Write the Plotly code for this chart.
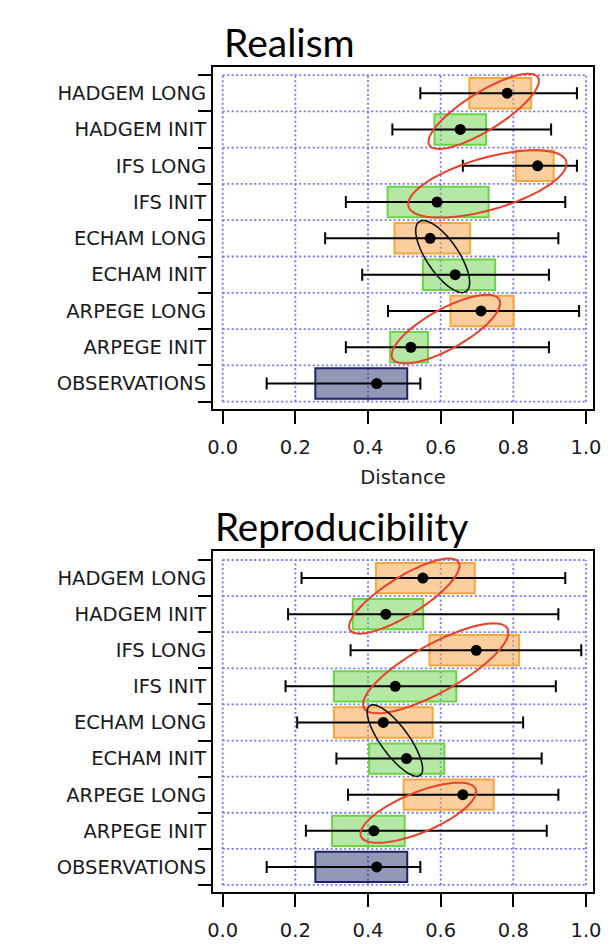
import numpy as np
import plotly.graph_objects as go

# ---------------- data ----------------
categories = ["OBSERVATIONS", "ARPEGE INIT", "ARPEGE LONG", "ECHAM INIT", "ECHAM LONG",
              "IFS INIT", "IFS LONG", "HADGEM INIT", "HADGEM LONG"]

realism_median = [0.424, 0.518, 0.711, 0.640, 0.571, 0.590, 0.867, 0.654, 0.783]
realism_q1 = [0.255, 0.461, 0.627, 0.551, 0.473, 0.454, 0.807, 0.583, 0.679]
realism_q3 = [0.508, 0.565, 0.801, 0.750, 0.681, 0.732, 0.911, 0.725, 0.849]
realism_min = [0.121, 0.339, 0.455, 0.384, 0.282, 0.339, 0.661, 0.467, 0.544]
realism_max = [0.544, 0.898, 0.981, 0.898, 0.924, 0.943, 0.975, 0.904, 0.975]

repro_median = [0.424, 0.416, 0.661, 0.506, 0.442, 0.475, 0.698, 0.449, 0.551]
repro_q1 = [0.255, 0.301, 0.498, 0.403, 0.306, 0.306, 0.569, 0.358, 0.422]
repro_q3 = [0.508, 0.501, 0.746, 0.610, 0.578, 0.643, 0.816, 0.552, 0.694]
repro_min = [0.121, 0.229, 0.345, 0.313, 0.205, 0.173, 0.352, 0.180, 0.217]
repro_max = [0.544, 0.892, 0.924, 0.878, 0.827, 0.917, 0.987, 0.924, 0.943]

x_ticks = [0.0, 0.2, 0.4, 0.6, 0.8, 1.0]
panel_titles = ["Realism", "Reproducibility"]
x_title = "Distance"

# ellipse pairs: (long category, init category, colour, semi-major px, semi-minor px, angle deg)
realism_ellipses = [
    ("HADGEM LONG", "HADGEM INIT", "#e8402a", 64, 19, 32),
    ("IFS LONG", "IFS INIT", "#e8402a", 82, 26, 16),
    ("ECHAM LONG", "ECHAM INIT", "#111111", 42, 16, -56),
    ("ARPEGE LONG", "ARPEGE INIT", "#e8402a", 61, 20, 29),
]
repro_ellipses = [
    ("HADGEM LONG", "HADGEM INIT", "#e8402a", 64, 19, 32),
    ("IFS LONG", "IFS INIT", "#e8402a", 82, 24, 29),
    ("ECHAM LONG", "ECHAM INIT", "#111111", 43, 14, -54),
    ("ARPEGE LONG", "ARPEGE INIT", "#e8402a", 62, 20, 22.5),
]

# ---------------- layout geometry ----------------
W, H = 613, 944
ML, MR, MT, MB = 213, 20, 10, 10
x_range = [-0.0267, 1.0193]
top_dom = [0.5682, 0.9386]
bot_dom = [0.0455, 0.4148]
top_yrange = [-0.701, 8.729]
bot_yrange = [-0.694, 8.757]

plot_w = W - ML - MR
plot_h = H - MT - MB
sx = plot_w / (x_range[1] - x_range[0])

FILL = {"LONG": "rgba(245,160,60,0.5)", "INIT": "rgba(110,210,75,0.5)", "OBS": "rgba(40,48,110,0.5)"}
EDGE = {"LONG": "#f6a83c", "INIT": "#6ad443", "OBS": "#1c2466"}
GRID = "#7474ff"


def kind(c):
    if c.endswith("LONG"):
        return "LONG"
    if c.endswith("INIT"):
        return "INIT"
    return "OBS"


pos = list(range(len(categories)))
fig = go.Figure()

panels = [
    (realism_median, realism_q1, realism_q3, realism_min, realism_max, realism_ellipses, "x", "y", top_dom, top_yrange),
    (repro_median, repro_q1, repro_q3, repro_min, repro_max, repro_ellipses, "x2", "y2", bot_dom, bot_yrange),
]

shapes = []
for med, q1, q3, mn, mx, ells, xa, ya, dom, yr in panels:
    kinds = [kind(c) for c in categories]
    fig.add_trace(go.Bar(
        orientation="h", y=pos, base=q1, x=[b - a for a, b in zip(q1, q3)], width=0.84,
        marker=dict(color=[FILL[k] for k in kinds], line=dict(color=[EDGE[k] for k in kinds], width=2)),
        xaxis=xa, yaxis=ya, hoverinfo="skip"))
    fig.add_trace(go.Scatter(
        x=med, y=pos, mode="markers",
        marker=dict(color="black", size=11),
        error_x=dict(type="data", symmetric=False,
                     array=[b - m for m, b in zip(med, mx)],
                     arrayminus=[m - a for m, a in zip(med, mn)],
                     color="black", thickness=2, width=6),
        xaxis=xa, yaxis=ya))

    sy = plot_h * (dom[1] - dom[0]) / (yr[1] - yr[0])
    # dotted grid restricted to data frame
    y_bounds = [p - 0.5 for p in pos] + [pos[-1] + 0.5]
    for yb in y_bounds:
        shapes.append(dict(type="line", xref=xa, yref=ya, x0=x_ticks[0], x1=x_ticks[-1], y0=yb, y1=yb,
                           line=dict(color=GRID, width=1.8, dash="2px,2.5px"), layer="below"))
    for xt in x_ticks:
        shapes.append(dict(type="line", xref=xa, yref=ya, x0=xt, x1=xt, y0=y_bounds[0], y1=y_bounds[-1],
                           line=dict(color=GRID, width=1.8, dash="2px,2.5px"), layer="below"))
    # ellipses
    t = np.linspace(0, 2 * np.pi, 90)
    for ca, cb, col, a, b, ang in ells:
        ia, ib = categories.index(ca), categories.index(cb)
        cx = (med[ia] + med[ib]) / 2
        cy = (ia + ib) / 2
        th = np.radians(ang)
        ex = cx + (a * np.cos(th) * np.cos(t) - b * np.sin(th) * np.sin(t)) / sx
        ey = cy + (a * np.sin(th) * np.cos(t) + b * np.cos(th) * np.sin(t)) / sy
        path = "M " + " L ".join(f"{u:.5f},{v:.5f}" for u, v in zip(ex, ey)) + " Z"
        shapes.append(dict(type="path", xref=xa, yref=ya, path=path,
                           line=dict(color=col, width=2 if col != "#111111" else 1.6), layer="above"))

tickfont = dict(family="DejaVu Sans", size=19.5, color="#1a1a1a")

xcommon = dict(range=x_range, tickvals=x_ticks, tickformat=".1f", ticks="outside", ticklen=13,
               tickwidth=2, tickcolor="black", showline=True, mirror=True, linecolor="black",
               linewidth=2, showgrid=False, zeroline=False, tickfont=tickfont,
               ticklabelstandoff=7, domain=[0, 1])
ycommon = dict(tickvals=pos, ticktext=categories, ticks="", showline=True, mirror=True,
               linecolor="black", linewidth=2, showgrid=False, zeroline=False, tickfont=tickfont,
               ticklabelstandoff=1,
               minor=dict(tickmode="linear", tick0=0.5, dtick=1, ticks="outside", ticklen=13,
                          tickwidth=2, tickcolor="black", showgrid=False))

fig.update_layout(
    width=W, height=H, margin=dict(l=ML, r=MR, t=MT, b=MB, autoexpand=False),
    paper_bgcolor="white", plot_bgcolor="white", showlegend=False,
    xaxis=dict(xcommon, anchor="y",
               title=dict(text=x_title, font=dict(family="DejaVu Sans", size=19.5, color="#1a1a1a"), standoff=12)),
    xaxis2=dict(xcommon, anchor="y2"),
    yaxis=dict(ycommon, domain=top_dom, range=top_yrange, anchor="x"),
    yaxis2=dict(ycommon, domain=bot_dom, range=bot_yrange, anchor="x2"),
    shapes=shapes,
    annotations=[
        dict(text=panel_titles[0], xref="paper", yref="paper", x=0.024, y=top_dom[1], xanchor="left",
             yanchor="bottom", showarrow=False, font=dict(family="Lato", size=39, color="black")),
        dict(text=panel_titles[1], xref="paper", yref="paper", x=0.0, y=bot_dom[1], xanchor="left",
             yanchor="bottom", showarrow=False, font=dict(family="Lato", size=38.5, color="black")),
    ],
)

fig.write_html("out.html")
